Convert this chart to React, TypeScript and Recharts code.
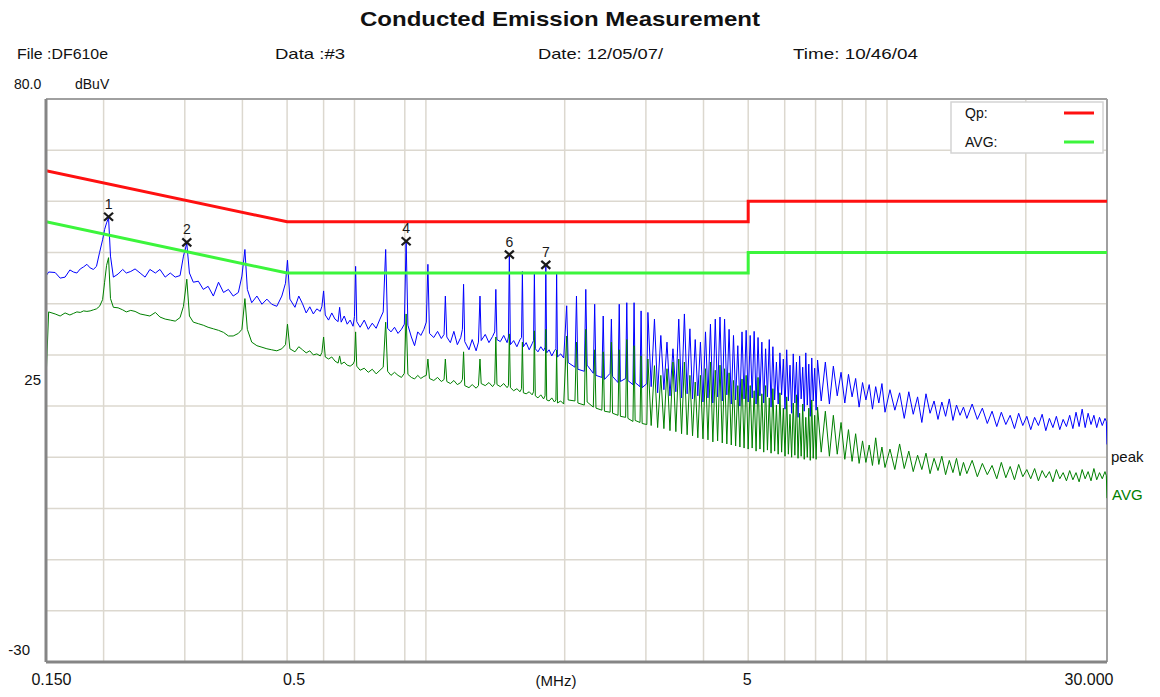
import React from "react";
import {
  ComposedChart,
  Line,
  Scatter,
  XAxis,
  YAxis,
  CartesianGrid,
  ReferenceLine,
} from "recharts";

const FONT = "'Liberation Sans', Arial, Helvetica, sans-serif";

// limit lines (MHz / dBuV)
const limitFreq = [0.15, 0.5, 5, 5, 30];
const qpLimitDb = [66, 56, 56, 60, 60];
const avgLimitDb = [56, 46, 46, 50, 50];

// 0.15 - 0.5 MHz
const lowFreq = [
  0.150, 0.152, 0.157, 0.161, 0.165, 0.169, 0.172, 0.175, 0.178, 0.181,
  0.184, 0.187, 0.190, 0.193, 0.196, 0.199, 0.201, 0.203, 0.205, 0.207,
  0.210, 0.215, 0.220, 0.224, 0.229, 0.234, 0.240, 0.246, 0.252, 0.259,
  0.265, 0.272, 0.279, 0.286, 0.293, 0.298, 0.303, 0.307, 0.313, 0.321,
  0.329, 0.337, 0.346, 0.355, 0.364, 0.373, 0.382, 0.392, 0.399, 0.405,
  0.410, 0.419, 0.430, 0.441, 0.452, 0.463, 0.475, 0.487, 0.496, 0.501, 0.507,
];
const lowPeak = [
  45.4, 46.2, 46.1, 45.0, 45.2, 46.6, 46.2, 46.0, 46.8, 47.2,
  47.7, 47.0, 46.7, 47.3, 50.0, 52.5, 54.5, 55.8, 56.8, 49.3,
  45.2, 45.8, 46.7, 46.0, 46.3, 46.8, 46.0, 45.2, 46.7, 46.0,
  46.7, 45.2, 46.0, 45.2, 45.5, 49.3, 51.8, 46.0, 44.2, 44.4,
  42.8, 43.4, 41.5, 44.2, 42.2, 42.8, 41.5, 42.2, 45.4, 50.6,
  42.8, 40.2, 41.5, 39.9, 40.9, 39.9, 39.5, 41.5, 44.0, 48.5, 40.9,
];
const lowAvg = [
  25.0, 38.4, 38.0, 37.6, 38.2, 37.8, 38.1, 38.4, 38.3, 38.6,
  38.5, 38.6, 38.8, 39.0, 39.5, 40.8, 44.2, 47.5, 49.0, 41.0,
  39.3, 39.2, 38.8, 38.4, 38.7, 38.5, 38.0, 37.8, 37.6, 38.3,
  37.4, 37.0, 36.8, 36.6, 37.3, 39.5, 44.8, 37.6, 36.4, 36.1,
  35.8, 35.4, 35.1, 34.8, 34.4, 33.7, 33.7, 34.2, 35.0, 41.0,
  35.0, 32.5, 31.8, 31.5, 31.2, 31.0, 30.8, 31.2, 32.0, 36.0, 31.2,
];

// 0.5 - 2 MHz
const midFreq = [
  0.520, 0.530, 0.540, 0.550, 0.560, 0.570, 0.580, 0.590,
  0.595, 0.600, 0.605, 0.615, 0.625, 0.635, 0.645,
  0.650, 0.655, 0.665, 0.675, 0.685, 0.695,
  0.700, 0.704, 0.708, 0.720, 0.735, 0.750, 0.765, 0.780, 0.795,
  0.808, 0.818, 0.826, 0.840, 0.855, 0.870, 0.885,
  0.898, 0.906, 0.914, 0.930, 0.945, 0.960, 0.975, 0.990,
  1.002, 1.010, 1.018, 1.040, 1.060, 1.080,
  1.095, 1.102, 1.110, 1.130, 1.150, 1.170, 1.190,
  1.200, 1.207, 1.214, 1.240, 1.260, 1.285,
  1.300, 1.310, 1.318, 1.345, 1.370, 1.395,
  1.410, 1.418, 1.426, 1.450, 1.475, 1.500,
  1.510, 1.517, 1.525, 1.550, 1.575, 1.600,
  1.612, 1.619, 1.627, 1.650, 1.675, 1.700,
  1.712, 1.719, 1.727, 1.750, 1.775, 1.800,
  1.813, 1.820, 1.828, 1.850, 1.875, 1.900,
  1.914, 1.921, 1.929, 1.960, 1.990,
];
const midPeak = [
  39.3, 41.5, 40.0, 38.2, 39.4, 38.0, 39.0, 38.5,
  39.5, 42.5, 37.8, 36.8, 38.2, 37.0, 36.5,
  39.3, 36.4, 37.6, 36.0, 36.8, 35.6,
  37.5, 47.3, 36.5, 35.4, 36.8, 35.0, 36.2, 35.2, 37.0,
  38.4, 50.6, 35.2, 34.5, 35.4, 34.2, 35.0,
  36.0, 52.4, 35.8, 33.5, 31.8, 34.5, 33.8, 35.0,
  36.4, 47.7, 34.2, 33.4, 34.6, 33.2,
  34.0, 41.5, 33.5, 32.4, 34.6, 32.0, 33.4,
  35.0, 43.8, 32.6, 31.0, 33.0, 30.8,
  32.5, 41.5, 32.8, 34.0, 32.4, 33.6,
  34.5, 42.8, 33.0, 32.6, 33.8, 32.4,
  33.5, 49.5, 32.0, 32.8, 31.6, 33.0,
  33.4, 46.3, 31.6, 32.4, 31.0, 32.2,
  32.8, 46.0, 31.2, 30.6, 31.6, 30.8,
  31.5, 47.3, 30.4, 31.0, 29.8, 30.8,
  31.2, 45.8, 29.6, 30.2, 29.4,
];
const midAvg = [
  30.6, 31.6, 31.0, 30.4, 30.8, 30.0, 30.2, 29.8,
  30.5, 33.5, 29.6, 29.2, 29.6, 28.8, 28.4,
  29.8, 28.2, 28.6, 28.0, 27.8, 28.2,
  28.8, 34.5, 27.8, 27.0, 27.4, 26.6, 27.2, 26.3, 27.0,
  27.6, 36.4, 26.8, 26.0, 26.6, 26.0, 25.6,
  26.4, 38.0, 26.2, 25.6, 25.3, 26.0, 25.4, 25.8,
  26.0, 29.2, 25.4, 25.0, 25.6, 24.8,
  25.2, 29.2, 24.8, 24.4, 25.0, 24.2, 24.6,
  25.2, 30.6, 24.0, 23.6, 24.2, 23.5,
  24.0, 29.2, 24.4, 24.0, 24.6, 23.8,
  24.4, 33.5, 24.2, 23.8, 24.4, 23.6,
  24.0, 34.1, 23.6, 23.0, 23.4, 22.8,
  23.4, 32.5, 22.6, 22.4, 22.8, 22.2,
  22.8, 34.7, 22.0, 21.6, 22.2, 21.4,
  22.0, 35.0, 21.2, 21.0, 21.6, 20.8,
  21.2, 31.0, 20.6, 21.0, 20.4,
];

// 2 - 5 MHz harmonic comb
const combFreq = [
  2.020, 2.035, 2.105, 2.121, 2.136, 2.206, 2.222, 2.237, 2.307,
  2.323, 2.338, 2.408, 2.424, 2.439, 2.509, 2.525, 2.540, 2.610,
  2.626, 2.641, 2.711, 2.727, 2.742, 2.812, 2.828, 2.843, 2.913,
  2.929, 2.944, 3.014,
  3.030, 3.080, 3.131, 3.181, 3.232, 3.282, 3.333, 3.383, 3.434, 3.484,
  3.535, 3.585, 3.636, 3.686, 3.737, 3.787, 3.838, 3.888, 3.939, 3.989,
  4.040, 4.090, 4.141, 4.191, 4.242, 4.292, 4.343, 4.393, 4.444, 4.494,
  4.545, 4.595, 4.646, 4.696, 4.747, 4.797, 4.848, 4.898, 4.949, 4.999,
  5.050, 5.100,
];
const combPeak = [
  39.6, 28.5, 27.6, 41.5, 27.2, 26.8, 42.8, 28.0, 26.4,
  39.9, 26.0, 25.6, 37.6, 25.2, 26.4, 37.0, 25.8, 24.6,
  39.9, 24.8, 25.4, 40.2, 25.0, 24.2, 40.2, 24.6, 23.8,
  38.6, 23.6, 24.4,
  38.3, 23.8, 37.0, 22.6, 33.8, 23.2, 32.5, 22.0, 31.2, 22.8,
  37.0, 21.6, 38.0, 22.4, 35.1, 21.4, 33.0, 22.0, 32.5, 20.8,
  34.5, 21.6, 36.0, 20.6, 37.0, 21.8, 37.4, 21.0, 37.0, 22.2,
  35.0, 20.4, 33.8, 21.2, 31.8, 20.0, 34.5, 21.4, 34.8, 20.8,
  33.8, 21.6,
];
const combAvg = [
  33.7, 21.2, 21.0, 32.5, 20.6, 20.2, 35.0, 20.8, 19.8,
  31.0, 19.6, 19.2, 30.6, 19.0, 18.8, 32.5, 18.6, 18.2,
  31.0, 18.0, 17.8, 33.0, 17.6, 17.0, 31.8, 17.2, 16.8,
  29.8, 16.6, 16.4,
  29.2, 16.2, 27.9, 15.8, 26.0, 15.6, 27.3, 15.2, 28.6, 15.0,
  29.2, 14.6, 28.6, 14.4, 26.0, 14.2, 24.7, 13.8, 26.0, 13.6,
  27.3, 13.4, 28.6, 13.0, 27.0, 13.2, 28.0, 12.8, 27.3, 12.6,
  26.5, 12.4, 25.0, 12.2, 24.0, 12.0, 25.3, 11.8, 26.0, 11.6,
  24.0, 11.8,
];

// 5 - 7 MHz
const highFreq = [
  5.151, 5.201, 5.252, 5.302, 5.353, 5.403, 5.454, 5.504, 5.555, 5.605,
  5.656, 5.706, 5.757, 5.807, 5.858, 5.908, 5.959, 6.009, 6.060, 6.110,
  6.161, 6.211, 6.262, 6.312, 6.363, 6.413, 6.464, 6.514, 6.565, 6.615,
  6.666, 6.716, 6.767, 6.817, 6.868, 6.918, 6.969, 7.019, 7.070,
];
const highPeak = [
  34.6, 20.4, 33.4, 22.0, 32.5, 20.6, 31.2, 21.8, 33.0, 19.8,
  31.6, 21.2, 28.6, 20.4, 30.4, 22.2, 29.2, 19.4, 31.0, 21.0,
  28.0, 18.6, 30.2, 20.6, 28.6, 17.8, 29.8, 21.4, 27.6, 19.0,
  30.4, 20.2, 28.2, 18.0, 29.4, 21.0, 27.4, 19.2, 29.0,
];
const highAvg = [
  23.0, 11.2, 25.6, 11.6, 22.4, 11.0, 24.0, 11.4, 21.6, 10.8,
  23.4, 11.2, 20.2, 10.6, 22.6, 11.0, 19.6, 10.2, 21.8, 10.6,
  18.4, 10.0, 20.6, 10.4, 22.2, 9.8, 18.6, 10.2, 20.4, 9.6,
  17.8, 10.0, 19.6, 9.4, 21.2, 9.8, 18.2, 9.6, 19.8,
];

// 7 - 30 MHz
const tailFreq = [
  7.20, 7.35, 7.50, 7.65, 7.80, 7.95, 8.10, 8.25, 8.40, 8.55,
  8.70, 8.85, 9.00, 9.15, 9.30, 9.45, 9.60, 9.75, 9.90,
  10.15, 10.40, 10.65, 10.90, 11.15, 11.40, 11.65, 11.90, 12.15, 12.40,
  12.65, 12.90, 13.15, 13.40, 13.65, 13.90, 14.15, 14.40, 14.65, 14.90,
  15.3, 15.7, 16.1, 16.5, 16.9, 17.3, 17.7, 18.1, 18.5, 18.9,
  19.3, 19.7, 20.1, 20.5, 20.9, 21.3, 21.7, 22.1, 22.5, 22.9,
  23.3, 23.7, 24.1, 24.5, 24.9, 25.3, 25.7, 26.1, 26.5, 26.9,
  27.3, 27.7, 28.1, 28.5, 28.9, 29.3, 29.7, 29.9, 30.0,
];
const tailPeak = [
  21.0, 28.6, 20.4, 27.8, 22.0, 26.6, 20.6, 26.2, 21.8, 25.4,
  19.8, 24.6, 21.2, 24.2, 19.4, 23.8, 20.6, 24.4, 18.8,
  23.2, 19.2, 22.6, 17.6, 22.8, 18.4, 21.8, 16.8, 22.4, 18.6,
  21.0, 17.4, 20.8, 18.0, 21.4, 17.2, 20.2, 18.2, 19.8, 17.6,
  20.4, 17.4, 19.6, 16.6, 19.0, 16.0, 18.8, 16.4, 18.2, 15.6,
  18.6, 16.2, 18.0, 15.4, 17.8, 16.2, 18.4, 15.2, 17.6, 15.8,
  18.0, 15.4, 17.4, 16.0, 18.2, 15.6, 18.8, 16.0, 19.4, 15.8,
  18.6, 16.4, 18.2, 15.8, 17.8, 16.2, 17.6, 17.0, 12.5,
];
const tailAvg = [
  11.0, 19.0, 10.2, 18.2, 10.6, 16.8, 9.6, 15.4, 9.2, 14.6,
  8.8, 13.2, 9.0, 12.4, 8.4, 13.8, 8.6, 12.0, 8.0,
  11.6, 7.6, 12.6, 7.8, 11.2, 7.2, 10.4, 7.6, 10.8, 6.8,
  9.8, 7.4, 10.2, 6.6, 9.4, 7.0, 9.8, 6.4, 9.0, 6.8,
  9.4, 6.2, 8.8, 6.6, 8.4, 5.8, 9.0, 6.0, 8.2, 5.6,
  8.6, 6.2, 7.6, 5.8, 7.8, 5.4, 7.4, 6.0, 7.2, 5.2,
  7.6, 5.8, 7.0, 5.4, 7.4, 5.6, 7.0, 5.2, 7.6, 5.8,
  7.2, 5.4, 7.8, 5.6, 7.0, 5.8, 7.2, 6.4, 2.0,
];

// markers
const markerFreq = [0.205, 0.303, 0.906, 1.517, 1.82];
const markerDb = [57.0, 52.0, 52.2, 49.6, 47.6];
const markerNames = ["1", "2", "4", "6", "7"];

// axes
const gridFreqs = [0.2, 0.3, 0.4, 0.5, 0.6, 0.7, 0.8, 0.9, 1, 2, 3, 4, 5, 6, 7, 8, 9, 10, 20];
const gridLevels = [-20, -10, 0, 10, 20, 30, 40, 50, 60, 70];
const xTickValues = [0.15, 0.5, 5, 30];
const xTickLabels = ["0.150", "0.5", "5", "30.000"];
const yTickValues = [-30, 25, 80];
const yTickLabels = ["-30", "25", "80.0"];

const toRows = (f: number[], v: number[]) => f.map((x, i) => ({ f: x, v: v[i] }));

const traceFreq = [...lowFreq, ...midFreq, ...combFreq, ...highFreq, ...tailFreq];
const peakRows = toRows(traceFreq, [...lowPeak, ...midPeak, ...combPeak, ...highPeak, ...tailPeak]);
const avgRows = toRows(traceFreq, [...lowAvg, ...midAvg, ...combAvg, ...highAvg, ...tailAvg]);
const qpRows = toRows(limitFreq, qpLimitDb);
const avgLimitRows = toRows(limitFreq, avgLimitDb);
const markerRows = markerFreq.map((f, i) => ({ f, v: markerDb[i], name: markerNames[i] }));

const BOTTOM = 662;

const XTick = (props: any) => {
  const { x, payload } = props;
  const i = xTickValues.indexOf(Number(payload.value));
  if (i < 0) return null;
  const shift: Record<string, number> = { "0.150": 5.5, "0.5": 7, "5": -1, "30.000": -18 };
  const label = xTickLabels[i];
  return (
    <text x={x + shift[label]} y={BOTTOM + 23} textAnchor="middle" fontSize={16} fill="#111" fontFamily={FONT}>
      {label}
    </text>
  );
};

const YTick = (props: any) => {
  const { y, payload } = props;
  const i = yTickValues.indexOf(Number(payload.value));
  if (i < 0) return null;
  const label = yTickLabels[i];
  if (label === "80.0") {
    return (
      <g fontFamily={FONT} fontSize={14} fill="#111">
        <text x={14} y={y - 10}>80.0</text>
        <text x={75} y={y - 10}>dBuV</text>
      </g>
    );
  }
  const pos: Record<string, [number, number]> = { "25": [41, 4], "-30": [30, -7] };
  return (
    <text x={pos[label][0]} y={y + pos[label][1]} textAnchor="end" fontSize={15} fill="#111" fontFamily={FONT}>
      {label}
    </text>
  );
};

const MarkerShape = (props: any) => {
  const { cx, cy, payload } = props;
  return (
    <g>
      <line x1={cx - 4.5} y1={cy - 4} x2={cx + 4.5} y2={cy + 4} stroke="#1a1a1a" strokeWidth={2.2} />
      <line x1={cx - 4.5} y1={cy + 4} x2={cx + 4.5} y2={cy - 4} stroke="#1a1a1a" strokeWidth={2.2} />
      <text x={cx} y={cy - 8} textAnchor="middle" fontSize={14} fill="#1a1a1a" fontFamily={FONT}>
        {payload.name}
      </text>
    </g>
  );
};

export default function App() {
  return (
    <div style={{ position: "absolute", left: 0, top: 0, width: 1160, height: 697, background: "#fff" }}>
      <ComposedChart width={1160} height={697} margin={{ top: 99, right: 53, bottom: 34, left: 45 }}>
        <CartesianGrid
          stroke="#dcd8cf"
          strokeWidth={1.5}
          verticalValues={gridFreqs}
          horizontalValues={gridLevels}
        />
        <XAxis
          type="number"
          dataKey="f"
          scale="log"
          domain={[0.15, 30]}
          ticks={xTickValues}
          allowDataOverflow
          height={1}
          tickLine={false}
          axisLine={{ stroke: "#858585", strokeWidth: 3 }}
          tick={<XTick />}
        />
        <YAxis
          type="number"
          dataKey="v"
          domain={[-30, 80]}
          ticks={yTickValues}
          allowDataOverflow
          width={1}
          tickLine={false}
          axisLine={{ stroke: "#858585", strokeWidth: 3 }}
          tick={<YTick />}
        />
        <ReferenceLine y={80} stroke="#a0a0a0" strokeWidth={2} />
        <ReferenceLine x={30} stroke="#a0a0a0" strokeWidth={2} />
        <Line data={peakRows} dataKey="v" type="linear" stroke="#0000ff" strokeWidth={1} dot={false} activeDot={false} isAnimationActive={false} />
        <Line data={avgRows} dataKey="v" type="linear" stroke="#008000" strokeWidth={1} dot={false} activeDot={false} isAnimationActive={false} />
        <Line data={qpRows} dataKey="v" type="linear" stroke="#ff1010" strokeWidth={3} dot={false} activeDot={false} isAnimationActive={false} />
        <Line data={avgLimitRows} dataKey="v" type="linear" stroke="#3cf53c" strokeWidth={3} dot={false} activeDot={false} isAnimationActive={false} />
        <Scatter data={markerRows} dataKey="v" shape={<MarkerShape />} isAnimationActive={false} />
      </ComposedChart>
      <svg width={1160} height={697} style={{ position: "absolute", left: 0, top: 0, pointerEvents: "none" }} fontFamily={FONT}>
        <text x={360} y={26} fontSize={21} fontWeight="bold" fill="#111" textLength={400} lengthAdjust="spacingAndGlyphs">
          Conducted Emission Measurement
        </text>
        <g fontSize={15} fill="#111">
          <text x={17} y={59} textLength={91} lengthAdjust="spacingAndGlyphs">File :DF610e</text>
          <text x={275} y={59} textLength={70} lengthAdjust="spacingAndGlyphs">Data :#3</text>
          <text x={538} y={59} textLength={125} lengthAdjust="spacingAndGlyphs">Date: 12/05/07/</text>
          <text x={793} y={59} textLength={125} lengthAdjust="spacingAndGlyphs">Time: 10/46/04</text>
        </g>
        <rect x={951} y={102} width={152} height={51} fill="#fff" stroke="#d4d4d4" strokeWidth={1.5} />
        <g fontSize={14} fill="#111">
          <text x={965} y={118}>Qp:</text>
          <text x={965} y={147}>AVG:</text>
        </g>
        <line x1={1064} y1={113} x2={1094} y2={113} stroke="#ff1010" strokeWidth={3} />
        <line x1={1064} y1={142} x2={1094} y2={142} stroke="#3cf53c" strokeWidth={3} />
        <text x={556} y={686} textAnchor="middle" fontSize={15} fill="#111">(MHz)</text>
        <text x={1111} y={462} fontSize={15} fill="#111">peak</text>
        <text x={1112} y={500} fontSize={15} fill="#008000">AVG</text>
      </svg>
    </div>
  );
}
